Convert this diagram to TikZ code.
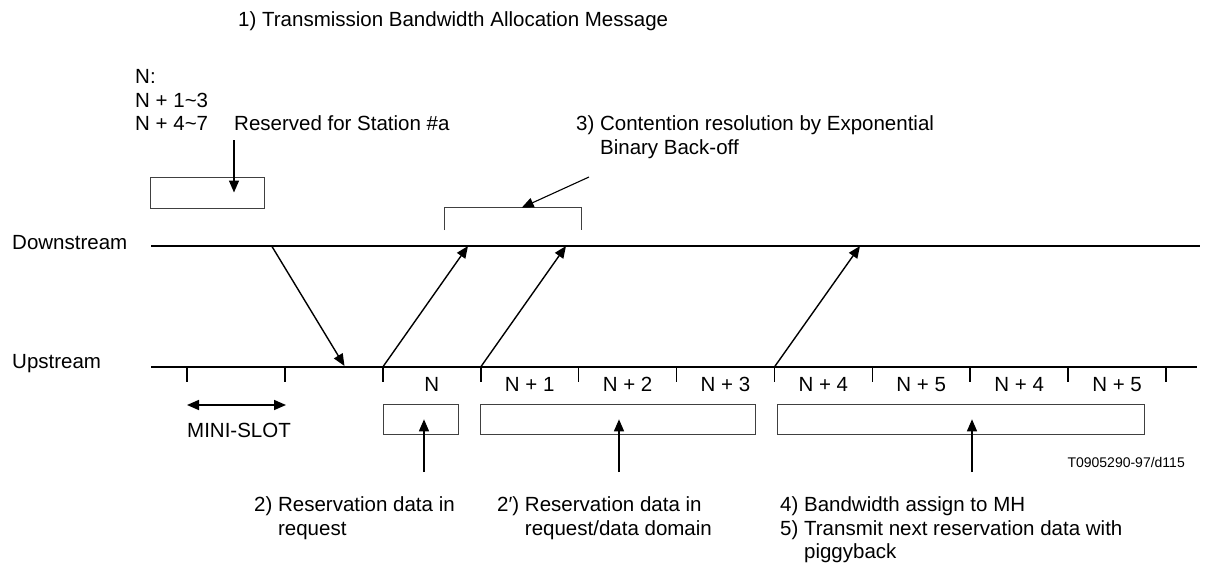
\documentclass[tikz,border=0pt]{standalone}
\usepackage{fontspec}
\setmainfont{Liberation Sans}
\usetikzlibrary{arrows.meta}

\begin{document}
\begin{tikzpicture}[x=1pt,y=-1pt,
  txt/.style={font=\fontsize{20.5}{23.5}\selectfont,inner sep=0pt,align=left},
  axis/.style={line width=2.4pt},
  tick/.style={line width=1.6pt},
  sig/.style={-{Triangle[length=12pt,width=10pt]},line width=1.4pt},
  span/.style={{Triangle[length=12pt,width=10pt]}-{Triangle[length=12pt,width=10pt]},line width=1.6pt},
  slot/.style={draw=black!75,line width=1pt,inner sep=0pt}
]
  \useasboundingbox (0,0) rectangle (1208,565);

  \node[txt,anchor=west] (title) at (238,21) {1) Transmission Bandwidth Allocation Message};
  \node[txt,anchor=north west] (slots) at (135,69.5) {N:\\N + 1\textasciitilde3\\N + 4\textasciitilde7};
  \node[txt,anchor=west] (resv) at (234,123) {Reserved for Station \#a};
  \node[slot,minimum width=114pt,minimum height=31pt] (resbox) at (207,192.5) {};
  \coordinate (restop) at (234,140);
  \draw[sig] (restop) -- (restop |- resbox.center);

  \node[txt,anchor=north west] (cont) at (576,115.5) {3) Contention resolution by Exponential\\\hphantom{3) }Binary Back-off};
  \coordinate (contend) at (589,177);
  \coordinate (brtop) at (521.7,207.7);
  \draw[line width=1pt,draw=black!75] (444.7,230) |- (581.7,207.7) -- (581.7,230);
  \draw[sig,line width=1.1pt] (contend) -- (brtop);

  \node[txt,anchor=west] (down) at (12,243) {Downstream};
  \node[txt,anchor=west] (up) at (12,364) {Upstream};
  \coordinate (dsL) at (151,246);
  \coordinate (dsR) at (1200,246);
  \coordinate (usL) at (151,367);
  \coordinate (usR) at (1197,367);
  \draw[axis] (dsL) -- (dsR);
  \draw[axis] (usL) -- (usR);

  \foreach \i in {0,...,10} {
    \coordinate (t\i) at ({187+97.9*\i},367);
    \draw[tick] (t\i) -- ++(0,14.7);
  }
  \foreach \lab [count=\i from 2] in {N,N + 1,N + 2,N + 3,N + 4,N + 5,N + 4,N + 5}
    \node[txt,anchor=base] (s\i) at ({187+97.9*(\i+0.5)},391.5) {\lab};

  \coordinate (grant) at (271.7,246);
  \coordinate (rx) at (344.5,366);
  \coordinate (r1) at (468,246);
  \coordinate (r2) at (566,246);
  \coordinate (r3) at (860,246);
  \draw[sig] (grant) -- (rx);
  \draw[sig] (t2) -- (r1);
  \draw[sig] (t3) -- (r2);
  \draw[sig] (t6) -- (r3);

  \coordinate (ms0) at (187,405);
  \coordinate (ms1) at (286,405);
  \draw[span] (ms0) -- (ms1);
  \node[txt,anchor=west] (mini) at (187,430) {MINI-SLOT};

  \node[slot,minimum width=75pt,minimum height=30pt] (box1) at (420.5,419.3) {};
  \node[slot,minimum width=275pt,minimum height=30pt] (box2) at (617.5,419.3) {};
  \node[slot,minimum width=367pt,minimum height=30pt] (box3) at (960.5,419.3) {};

  \coordinate (a1) at (424,472);
  \coordinate (a2) at (619,472);
  \coordinate (a3) at (972,472);
  \draw[sig] (a1) -- (a1 |- box1.center);
  \draw[sig] (a2) -- (a2 |- box2.center);
  \draw[sig] (a3) -- (a3 |- box3.center);

  \node[font=\fontsize{14}{16}\selectfont,anchor=east,inner sep=0pt] (code) at (1185,462) {T0905290-97/d115};

  \node[txt,anchor=north west] (n2) at (254,496.5) {2) Reservation data in\\\hphantom{2) }request};
  \node[txt,anchor=north west] (n2b) at (497,496.5) {2′) Reservation data in\\\hphantom{2′) }request/data domain};
  \node[txt,anchor=north west] (n45) at (780,496.5) {4) Bandwidth assign to MH\\5) Transmit next reservation data with\\\hphantom{5) }piggyback};
\end{tikzpicture}
\end{document}
